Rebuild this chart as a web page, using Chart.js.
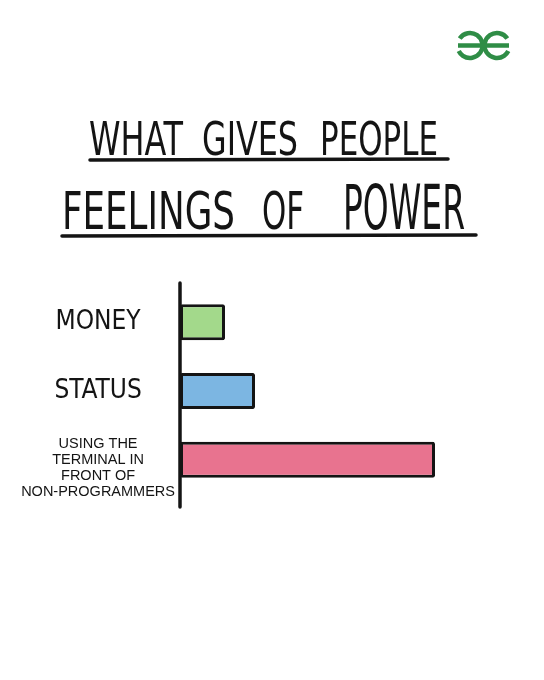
<!DOCTYPE html>
<html>
<head>
<meta charset="utf-8">
<script src="https://cdn.jsdelivr.net/npm/chart.js@4.4.1/dist/chart.umd.min.js"></script>
<style>
  html, body { margin: 0; padding: 0; background: #fff; }
  #wrap { position: relative; width: 544px; height: 680px; }
</style>
</head>
<body>
<div id="wrap"><canvas id="powerChart"></canvas></div>
<script>
// chart data
const categories = ['MONEY', 'STATUS', ['', 'USING THE', 'TERMINAL IN', 'FRONT OF', 'NON-PROGRAMMERS']];
const powerValues = [15, 25, 85];
const barColors = ['#a3d98b', '#7cb6e2', '#e8738f'];
const titleWords = [['WHAT', 'GIVES', 'PEOPLE'], ['FEELINGS', 'OF', 'POWER']];
const xMax = 100;

const INK = '#141414';
const HAND = '"DejaVu Sans Condensed", "DejaVu Sans", sans-serif';

// draw one word stretched/squeezed into a box
function drawWord(ctx, text, x, baseline, width, size) {
  ctx.save();
  ctx.font = size + 'px ' + HAND;
  ctx.textBaseline = 'alphabetic';
  ctx.textAlign = 'left';
  const w = ctx.measureText(text).width;
  ctx.translate(x, baseline);
  ctx.scale(width / w, 1);
  ctx.fillStyle = INK;
  ctx.fillText(text, 0, 0);
  ctx.restore();
}

function line(ctx, x1, y1, x2, y2, w, color) {
  ctx.save();
  ctx.strokeStyle = color;
  ctx.lineWidth = w;
  ctx.lineCap = 'round';
  ctx.beginPath();
  ctx.moveTo(x1, y1);
  ctx.lineTo(x2, y2);
  ctx.stroke();
  ctx.restore();
}

// title, underlines, logo and the long axis stroke
const comicPlugin = {
  id: 'comic',
  afterDraw(chart) {
    const ctx = chart.ctx;
    const area = chart.chartArea;

    // title line 1
    const w1 = titleWords[0];
    drawWord(ctx, w1[0], 89, 155, 94, 47);
    drawWord(ctx, w1[1], 202, 155, 96, 47);
    drawWord(ctx, w1[2], 320, 155, 118, 47);
    line(ctx, 90, 160, 448, 159, 3.5, INK);

    // title line 2
    const w2 = titleWords[1];
    drawWord(ctx, w2[0], 62, 229, 173, 52);
    drawWord(ctx, w2[1], 262, 229, 42, 52);
    drawWord(ctx, w2[2], 343, 229, 122, 62);
    line(ctx, 62, 236, 476, 235, 3.5, INK);

    // logo
    ctx.save();
    ctx.strokeStyle = '#2f8d46';
    ctx.lineWidth = 4.5;
    ctx.beginPath();
    ctx.arc(470, 45.5, 12.5, Math.PI + 0.6, 3 * Math.PI - 0.45);
    ctx.stroke();
    ctx.beginPath();
    ctx.arc(497, 45.5, 12.5, -0.6, 0.45 - 2 * Math.PI, true);
    ctx.stroke();
    ctx.beginPath();
    ctx.moveTo(458, 45.5);
    ctx.lineTo(509, 45.5);
    ctx.stroke();
    ctx.restore();

    // vertical axis, a bit longer than the plot area
    line(ctx, area.left, area.top - 5, area.left, area.bottom + 13, 3.5, INK);
  }
};

new Chart(document.getElementById('powerChart'), {
  type: 'bar',
  data: {
    labels: categories,
    datasets: [{
      data: powerValues,
      backgroundColor: barColors,
      borderColor: INK,
      borderWidth: 3,
      borderSkipped: false,
      borderRadius: 2,
      barPercentage: 0.75,
      categoryPercentage: 0.7
    }]
  },
  options: {
    indexAxis: 'y',
    responsive: true,
    maintainAspectRatio: false,
    animation: false,
    layout: {
      padding: { top: 288, bottom: 186, left: 0, right: 64 }
    },
    plugins: {
      legend: { display: false },
      tooltip: { enabled: false },
      title: { display: false }
    },
    scales: {
      x: {
        display: false,
        min: 0,
        max: xMax
      },
      y: {
        grid: { display: false, drawTicks: false },
        border: { display: false },
        afterFit: function(scale) {
          scale.width = 180;
        },
        ticks: {
          color: INK,
          padding: 5,
          autoSkip: false,
          crossAlign: 'center',
          font: function(context) {
            if (context.index === 2) {
              return { family: '"Liberation Sans", Arial, sans-serif', size: 14.5, lineHeight: 1.1 };
            }
            return { family: HAND, size: 26 };
          }
        }
      }
    }
  },
  plugins: [comicPlugin]
});
</script>
</body>
</html>
